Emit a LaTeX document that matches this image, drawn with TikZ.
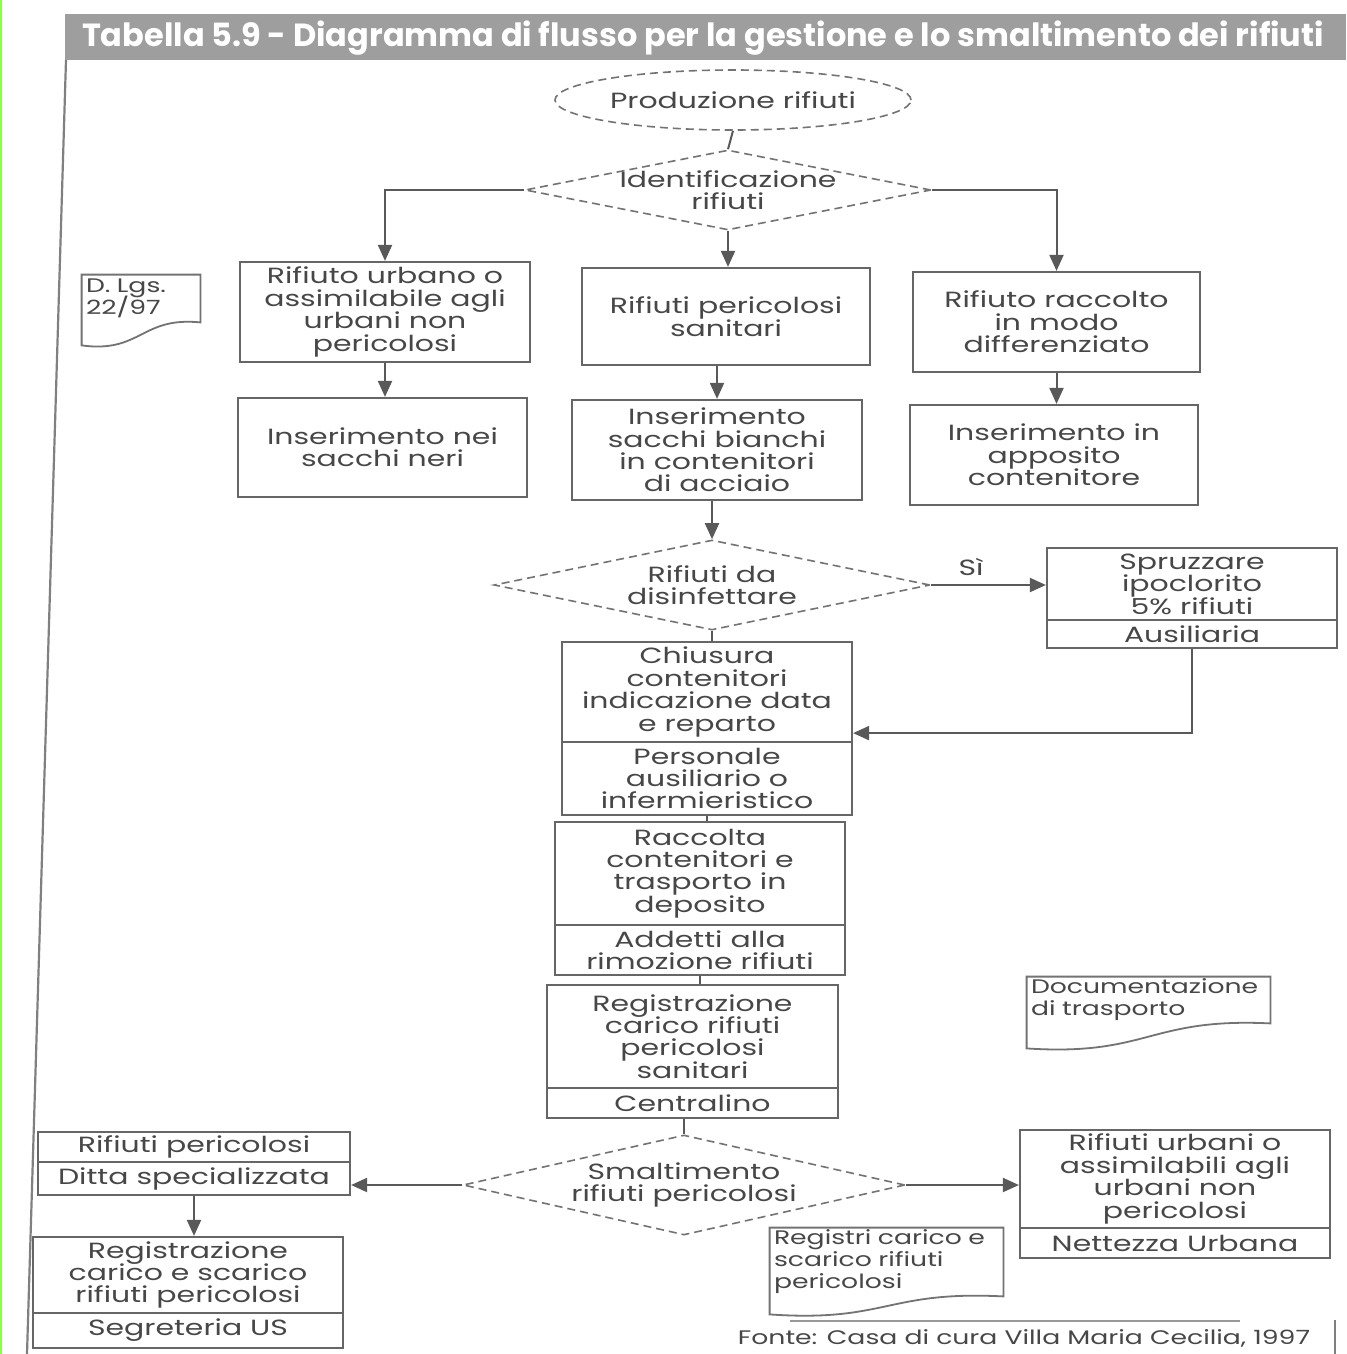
\documentclass[tikz,border=0pt]{standalone}
\usepackage{fontspec}
\setmainfont{Poppins}
\newfontfamily\boxfont{Poppins}[FakeStretch=1.36]
\usetikzlibrary{shapes.geometric,arrows.meta,calc}

% wide text with a fixed line pitch
\newcommand{\boxtext}{\boxfont\fontsize{11}{11.2}\selectfont\lineskiplimit=-20pt\relax}
\newcommand{\doctext}{\boxfont\fontsize{9.8}{11}\selectfont\lineskiplimit=-20pt\relax}

\tikzset{
  frameline/.style={draw=black!50,line width=1.1pt},
  txt/.style={text=black!72,font=\boxtext},
  box/.style={txt,draw=black!60,line width=1.1pt,align=center,inner sep=0pt},
  dashline/.style={draw=black!55,line width=0.8pt,dash pattern=on 4pt off 2.5pt},
  decision/.style={diamond,dashline,inner sep=0pt},
  decisiontext/.style={txt,align=center},
  startnode/.style={txt,ellipse,dashline,inner sep=0pt},
  docnode/.style={text=black!72,font=\doctext,align=left,
                  inner xsep=2pt,inner ysep=1pt},
  docline/.style={draw=black!55,line width=0.9pt},
  link/.style={draw=black!65,line width=1pt},
  arr/.style={link,-{Triangle[length=8pt,width=7pt]}},
}

% draws the outline of a document symbol: flat top, wavy bottom
\newcommand{\docoutline}[2]{%
  \draw[docline] (#1.north west) -- (#1.north east) -- (#1.south east)
    .. controls ($(#1.south)+(0,-6)$) and ($(#1.south)+(0,#2+8)$) ..
    ($(#1.south west)+(0,#2)$) -- cycle;}

\begin{document}
\begin{tikzpicture}[x=0.5pt,y=-0.5pt]
\useasboundingbox (0,0) rectangle (1346,1354);
\fill[white] (0,0) rectangle (1346,1354);
\draw[green!55!lime!70,line width=1pt] (1,0) -- (1,1354);

% title band
\fill[black!38] (65,14) rectangle (1346,60);
\node[anchor=west,text=white,font=\fontsize{16}{16}\selectfont\bfseries] (title) at (75,38)
  {Tabella 5.9 - Diagramma di flusso per la gestione e lo smaltimento dei rifiuti};

% page frame
\draw[frameline] (66,60) -- (27,1354);
\draw[frameline] (1335,1320) -- (1335,1354);
\draw[draw=black!40,line width=0.9pt] (790,1321) -- (1240,1321);

% start and first decision
\node[startnode,minimum width=178pt,minimum height=30pt] (prod) at (733,100) {Produzione rifiuti};
\node[decision,minimum width=203pt,minimum height=40pt] (ident) at (728,190) {};
\node[decisiontext] (identlbl) at (ident) {Identificazione\\rifiuti};

% three waste streams
\node[box,minimum width=145pt,minimum height=50pt] (urb) at (385,312) {Rifiuto urbano o\\assimilabile agli\\urbani non\\pericolosi};
\node[box,minimum width=144pt,minimum height=48.5pt] (per) at (726,316.5) {Rifiuti pericolosi\\sanitari};
\node[box,minimum width=143.5pt,minimum height=50pt] (diff) at (1056.5,322) {Rifiuto raccolto\\in modo\\differenziato};

\node[box,minimum width=144.5pt,minimum height=49.5pt] (neri) at (382.5,447.5) {Inserimento nei\\sacchi neri};
\node[box,minimum width=145pt,minimum height=50pt] (bianchi) at (717,450) {Inserimento\\sacchi bianchi\\in contenitori\\di acciaio};
\node[box,minimum width=144pt,minimum height=50pt] (apposito) at (1054,455) {Inserimento in\\apposito\\contenitore};

% legal reference
\node[docnode,text width=55pt,minimum height=23.5pt] (dlgs) at (141,298.5) {D. Lgs.\\22/97};
\docoutline{dlgs}{23}

% disinfection
\node[decision,minimum width=218pt,minimum height=45pt] (disinf) at (712,585) {};
\node[decisiontext] (disinflbl) at (disinf) {Rifiuti da\\disinfettare};
\node[box,minimum width=145pt,minimum height=36pt] (spruzz) at (1192,584) {Spruzzare\\ipoclorito\\5\% rifiuti};
\node[box,minimum width=145pt,minimum height=14pt] (ausil) at (1192,634) {Ausiliaria};

% central column
\node[box,minimum width=145pt,minimum height=50pt] (chiusura) at (707,692) {Chiusura\\contenitori\\indicazione data\\e reparto};
\node[box,minimum width=145pt,minimum height=36.5pt] (personale) at (707,778.5) {Personale\\ausiliario o\\infermieristico};
\node[box,minimum width=145pt,minimum height=51.5pt] (raccolta) at (700,873.5) {Raccolta\\contenitori e\\trasporto in\\deposito};
\node[box,minimum width=145pt,minimum height=25pt] (addetti) at (700,950) {Addetti alla\\rimozione rifiuti};
\node[box,minimum width=145.5pt,minimum height=51.5pt] (registr) at (692.5,1036.5) {Registrazione\\carico rifiuti\\pericolosi\\sanitari};
\node[box,minimum width=145.5pt,minimum height=15pt] (centr) at (692.5,1103) {Centralino};

\node[docnode,text width=117.5pt,minimum height=20pt] (trasp) at (1148.5,1000) {Documentazione\\di trasporto};
\docoutline{trasp}{25}

% disposal
\node[decision,minimum width=221pt,minimum height=50pt] (smalt) at (684,1185) {};
\node[decisiontext] (smaltlbl) at (smalt) {Smaltimento\\rifiuti pericolosi};

\node[box,minimum width=156pt,minimum height=15pt] (ditta1) at (194,1147) {Rifiuti pericolosi};
\node[box,minimum width=156pt,minimum height=16.5pt] (ditta2) at (194,1178.5) {Ditta specializzata};
\node[box,minimum width=155pt,minimum height=38pt] (segr1) at (188,1275) {Registrazione\\carico e scarico\\rifiuti pericolosi};
\node[box,minimum width=155pt,minimum height=17.5pt] (segr2) at (188,1330.5) {Segreteria US};

\node[box,minimum width=155pt,minimum height=49pt] (nu1) at (1175,1179) {Rifiuti urbani o\\assimilabili agli\\urbani non\\pericolosi};
\node[box,minimum width=155pt,minimum height=15pt] (nu2) at (1175,1243) {Nettezza Urbana};

\node[docnode,text width=112.5pt,minimum height=34pt] (registri) at (886.5,1262) {Registri carico e\\scarico rifiuti\\pericolosi};
\docoutline{registri}{18}

\node[docnode,anchor=center] (fonte) at (1024,1338) {Fonte: Casa di cura Villa Maria Cecilia, 1997};

% connectors
\draw[link] (prod.south) -- (ident.north);
\draw[arr] (ident.west) -| (urb.north);
\draw[arr] (ident.south) -- (ident.south |- per.north);
\draw[arr] (ident.east) -| (diff.north);
\draw[arr] (urb.south) -- (urb.south |- neri.north);
\draw[arr] (bianchi.north |- per.south) -- (bianchi.north);
\draw[arr] (diff.south) -- (diff.south |- apposito.north);
\draw[arr] (disinf.north |- bianchi.south) -- (disinf.north);
\draw[arr] (disinf.east) -- (disinf.east -| spruzz.west)
  node[pos=0.35,above=1pt,txt] (si) {Sì};
\draw[link] (disinf.south) -- (disinf.south |- chiusura.north);
\draw[arr] (ausil.south) |- ($(chiusura.south east)+(0,-10)$);
\draw[link] (personale.south) -- (personale.south |- raccolta.north);
\draw[link] (addetti.south) -- (addetti.south |- registr.north);
\draw[link] (smalt.north |- centr.south) -- (smalt.north);
\draw[arr] (smalt.west) -- (smalt.west -| ditta2.east);
\draw[arr] (smalt.east) -- (smalt.east -| nu1.west);
\draw[arr] (ditta2.south) -- (ditta2.south |- segr1.north);
\end{tikzpicture}
\end{document}
